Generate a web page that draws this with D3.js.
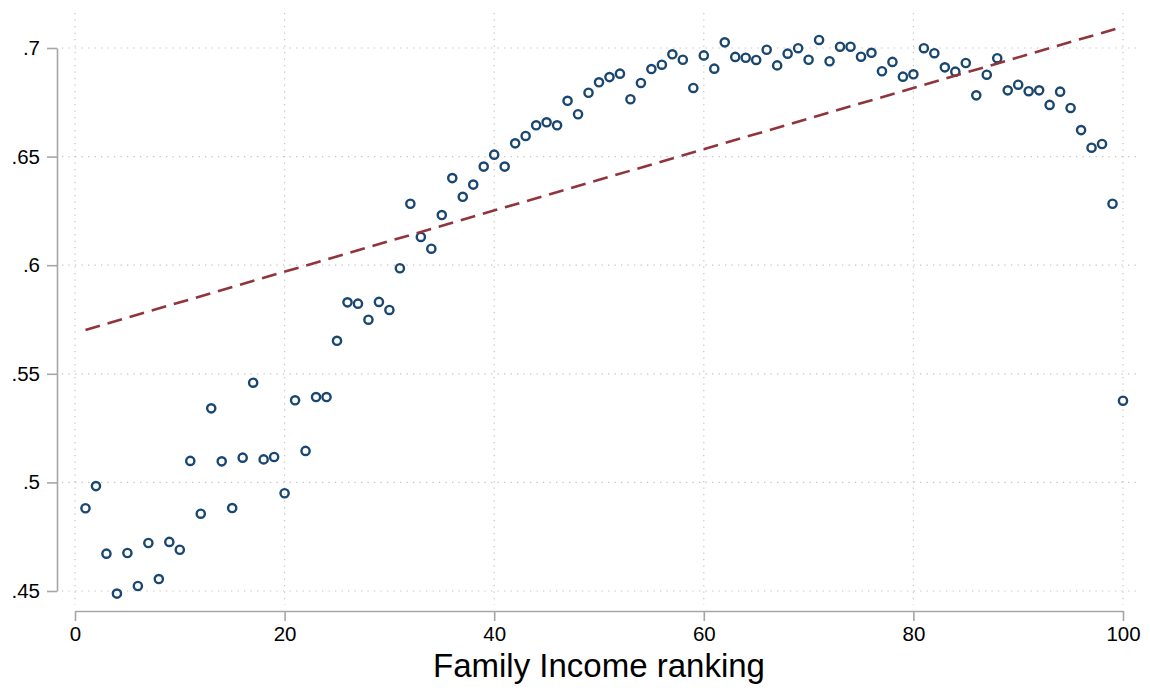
<!DOCTYPE html>
<html>
<head>
<meta charset="utf-8">
<script src="https://cdn.jsdelivr.net/npm/d3@7/dist/d3.min.js"></script>
<style>
  html, body { margin: 0; padding: 0; background: #ffffff; }
  svg { display: block; }
  text { font-family: "Liberation Sans", Arial, Helvetica, sans-serif; fill: #000; }
</style>
</head>
<body>
<svg id="chart" width="1150" height="697"></svg>
<script>
// Family income ranking (percentile 1..100)
const ranking = d3.range(1, 101);

// Outcome share by income percentile
const share = [
  0.4881, 0.4983, 0.4672, 0.4488, 0.4675, 0.4523, 0.4721, 0.4555, 0.4726, 0.4690,
  0.5099, 0.4856, 0.5341, 0.5097, 0.4882, 0.5114, 0.5459, 0.5106, 0.5117, 0.4950,
  0.5378, 0.5145, 0.5393, 0.5393, 0.5652, 0.5829, 0.5823, 0.5749, 0.5831, 0.5794,
  0.5986, 0.6283, 0.6130, 0.6076, 0.6231, 0.6401, 0.6315, 0.6371, 0.6454, 0.6509,
  0.6454, 0.6561, 0.6595, 0.6644, 0.6658, 0.6644, 0.6757, 0.6695, 0.6794, 0.6842,
  0.6866, 0.6882, 0.6764, 0.6839, 0.6903, 0.6923, 0.6971, 0.6946, 0.6816, 0.6966,
  0.6905, 0.7026, 0.6959, 0.6955, 0.6945, 0.6992, 0.6920, 0.6974, 0.6999, 0.6946,
  0.7037, 0.6939, 0.7006, 0.7006, 0.6960, 0.6978, 0.6893, 0.6936, 0.6868, 0.6879,
  0.6999, 0.6976, 0.6911, 0.6891, 0.6931, 0.6782, 0.6877, 0.6953, 0.6805, 0.6831,
  0.6801, 0.6805, 0.6738, 0.6799, 0.6724, 0.6622, 0.6541, 0.6558, 0.6283, 0.5376
];

// Fitted linear trend, endpoints
const fitRanking = [1, 100];
const fitShare = [0.5702, 0.7098];

const xTicks = [0, 20, 40, 60, 80, 100];
const yTicks = [0.45, 0.5, 0.55, 0.6, 0.65, 0.7];
const yTickLabels = [".45", ".5", ".55", ".6", ".65", ".7"];
const xTitle = "Family Income ranking";

const svg = d3.select("#chart");

const x = d3.scaleLinear().domain([0, 100]).range([75, 1123]);
const y = d3.scaleLinear().domain([0.45, 0.7]).range([591, 48]);

// plot region (grid extent)
const region = { left: 62, right: 1138, top: 13, bottom: 605 };

const grid = svg.append("g").attr("class", "grid")
  .attr("stroke", "#c4c4c4").attr("stroke-width", 1.2)
  .attr("stroke-dasharray", "1.3,5.2");

grid.selectAll("line.h").data(yTicks).join("line")
  .attr("class", "h")
  .attr("x1", region.left).attr("x2", region.right)
  .attr("y1", d => y(d)).attr("y2", d => y(d));

grid.selectAll("line.v").data(xTicks).join("line")
  .attr("class", "v")
  .attr("x1", d => x(d)).attr("x2", d => x(d))
  .attr("y1", region.top).attr("y2", region.bottom);

// axes
const yAxis = d3.axisLeft(y)
  .tickValues(yTicks)
  .tickFormat((d, i) => yTickLabels[i])
  .tickSize(10).tickSizeOuter(0).tickPadding(7);

const xAxis = d3.axisBottom(x)
  .tickValues(xTicks)
  .tickFormat(d3.format("d"))
  .tickSize(10).tickSizeOuter(0).tickPadding(5);

const gy = svg.append("g").attr("transform", "translate(57,0)").call(yAxis);
const gx = svg.append("g").attr("transform", "translate(0,611)").call(xAxis);

[gx, gy].forEach(g => {
  g.select(".domain").attr("stroke", "#a6a6a6").attr("stroke-width", 1.6);
  g.selectAll(".tick line").attr("stroke", "#a6a6a6").attr("stroke-width", 1.6);
  g.selectAll(".tick text")
    .style("font-family", "'Liberation Sans', Arial, sans-serif")
    .style("font-size", "20.5px").attr("fill", "#000");
});

svg.append("text")
  .attr("x", x(50)).attr("y", 677)
  .attr("text-anchor", "middle")
  .style("font-size", "33px")
  .text(xTitle);

// scatter points
const pts = ranking.map((r, i) => ({ r, v: share[i] }));

svg.append("g").selectAll("circle").data(pts).join("circle")
  .attr("cx", d => x(d.r)).attr("cy", d => y(d.v))
  .attr("r", 4.1)
  .attr("fill", "none")
  .attr("stroke", "#1a476f")
  .attr("stroke-width", 2.4);

// linear trend
const fit = fitRanking.map((r, i) => ({ r, v: fitShare[i] }));

svg.append("path")
  .datum(fit)
  .attr("d", d3.line().x(d => x(d.r)).y(d => y(d.v)))
  .attr("fill", "none")
  .attr("stroke", "#90353b")
  .attr("stroke-width", 2.6)
  .attr("stroke-dasharray", "15,8");
</script>
</body>
</html>
